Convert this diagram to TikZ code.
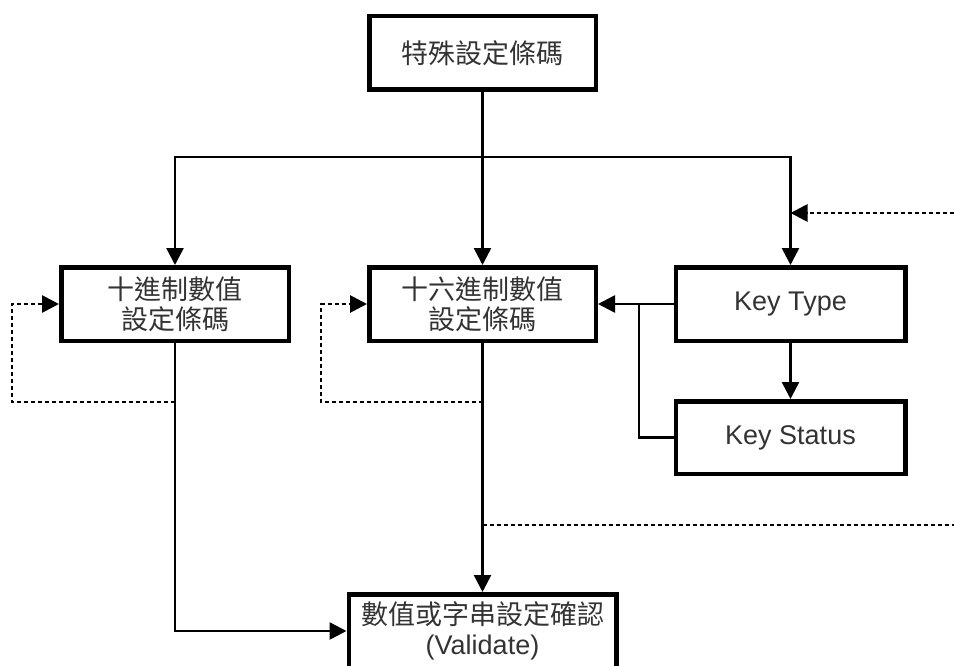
\documentclass[tikz,border=0pt]{standalone}
\usepackage{fontspec}
\setmainfont{Liberation Sans}
\newfontfamily\cjk{Noto Sans CJK TC}
\usetikzlibrary{arrows.meta,positioning}

\tikzset{
  box/.style={draw, line width=4.5pt, align=center, inner sep=0pt,
    minimum width=226.5pt, minimum height=73.5pt, text=black!80,
    font=\fontsize{27}{30}\selectfont},
  tip/.style={-{Triangle[length=17pt,width=17pt]}},
  link/.style={line width=2.6pt, tip},
  wire/.style={line width=2.6pt},
  back/.style={line width=2.8pt, dash pattern=on 4pt off 3pt},
}

\begin{document}
\begin{tikzpicture}[x=1pt,y=-1pt]
        \useasboundingbox (0,0) rectangle (954,666);

        \node[box] (special) at (482.5,53) {\cjk 特殊設定條碼};
        \node[box, minimum width=227.5pt] (decimal) at (175,304) {\cjk 十進制數值\\\cjk 設定條碼};
        \node[box] (hex) at (482.5,304) {\cjk 十六進制數值\\\cjk 設定條碼};
        \node[box, minimum width=229.5pt] (key type) at (790.5,304) {Key Type};
        \node[box, minimum width=229.5pt, minimum height=72.5pt] (key status) [below=56pt of key type] {Key Status};
        \node[box, minimum width=267.5pt] (validate) at (482.5,631) {\cjk 數值或字串設定確認\\(Validate)};

        \coordinate (split) at (482.5,157);
        \coordinate (key in) at (954,213);
        \coordinate (joint) at (639,304);
        \coordinate (decimal loop) at (12,402);
        \coordinate (hex loop) at (321,402);
        \coordinate (hex out) at (954,525);

        \draw[wire] (special.south) -- (split);
        \draw[link] (split) -| (decimal.north);
        \draw[link] (split) -- (hex.north);
        \draw[link] (split) -| (key type.north);
        \draw[back, tip] (key in) -- (key in -| key type.north);

        \draw[link] (key type.west) -- (hex.east);
        \draw[link] (key type.south) -- (key status.north);
        \draw[wire] (key status.west) -| (joint);

        \draw[back, tip] (decimal.south |- decimal loop) -- (decimal loop) |- (decimal.west);
        \draw[back, tip] (hex.south |- hex loop) -- (hex loop) |- (hex.west);

        \draw[link] (decimal.south) |- (validate.west);
        \draw[link] (hex.south) -- (validate.north);
        \draw[back] (hex.south |- hex out) -- (hex out);
\end{tikzpicture}
\end{document}
